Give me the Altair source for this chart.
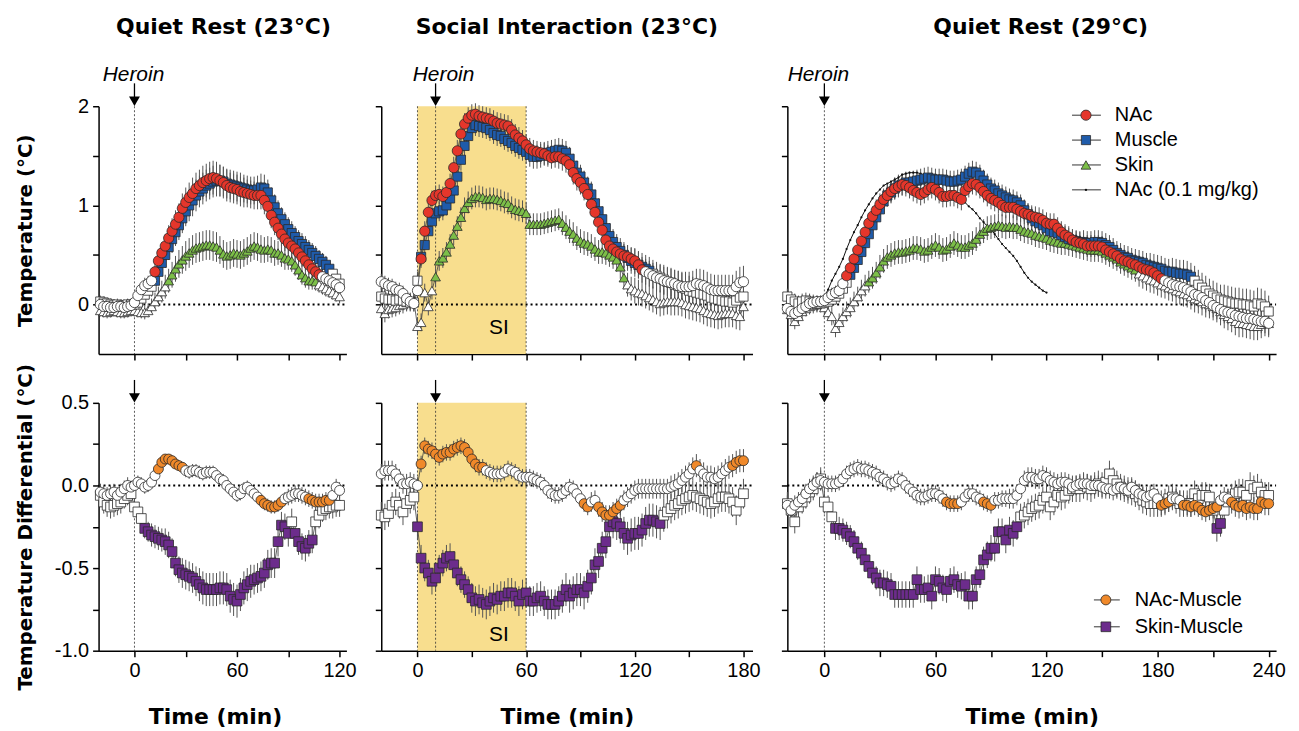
import altair as alt
import pandas as pd

# ---------------- sampling ----------------
STEP = 2            # minutes between samples
P1_START = -20      # Quiet Rest 23 C : -20 .. 120
P2_START = -20      # Social Interaction : -20 .. 180
P3_START = -20      # Quiet Rest 29 C : -20 .. 240
NAC01_START = 0

HEROIN_P1, HEROIN_P2, HEROIN_P3 = 0, 10, 0
SI_START, SI_END, SI_LABEL_T = 0, 60, 45

# ---------------- Panel 1 (Quiet Rest 23 C) ----------------
NAC_P1 = [0.00,-0.02,-0.02,-0.03,-0.03,-0.02,-0.02,-0.03,-0.02,-0.01,
          0.02,0.09,0.15,0.19,0.21,0.24,0.33,0.44,0.52,0.59,
          0.67,0.74,0.81,0.88,0.97,1.03,1.08,1.12,1.17,1.20,
          1.23,1.25,1.27,1.28,1.27,1.25,1.23,1.20,1.18,1.17,
          1.16,1.14,1.13,1.12,1.11,1.10,1.10,1.10,1.05,0.99,
          0.90,0.83,0.77,0.71,0.66,0.62,0.59,0.56,0.52,0.48,
          0.44,0.40,0.36,0.33,0.30,0.28,0.26,0.24,0.22,0.20,
          0.17]
MUS_P1 = [0.03,0.02,0.01,0.00,-0.01,0.00,-0.01,-0.01,0.00,0.00,
          0.00,0.02,0.06,0.10,0.14,0.18,0.24,0.33,0.42,0.50,
          0.58,0.66,0.73,0.80,0.87,0.94,1.00,1.05,1.10,1.14,
          1.17,1.20,1.22,1.24,1.25,1.25,1.24,1.22,1.21,1.20,
          1.19,1.18,1.17,1.16,1.15,1.15,1.16,1.18,1.17,1.13,
          1.05,0.98,0.92,0.86,0.81,0.76,0.72,0.68,0.64,0.61,
          0.58,0.55,0.52,0.49,0.46,0.43,0.40,0.36,0.31,0.26,
          0.21]
SKN_P1 = [-0.06,-0.07,-0.08,-0.07,-0.06,-0.07,-0.08,-0.08,-0.07,-0.06,
          -0.06,-0.07,-0.08,-0.08,-0.06,-0.02,0.03,0.08,0.13,0.18,
          0.24,0.30,0.36,0.41,0.45,0.49,0.52,0.55,0.57,0.58,
          0.59,0.60,0.60,0.59,0.58,0.55,0.51,0.49,0.50,0.52,
          0.51,0.50,0.52,0.54,0.57,0.59,0.58,0.56,0.55,0.56,
          0.55,0.52,0.52,0.50,0.47,0.46,0.44,0.40,0.35,0.30,
          0.27,0.24,0.24,0.23,0.20,0.18,0.16,0.14,0.12,0.10,
          0.08]
NMD_P1 = [-0.04,-0.05,-0.06,-0.05,-0.04,-0.06,-0.04,-0.02,0.00,-0.01,
          0.00,0.02,0.01,-0.01,0.00,0.02,0.06,0.10,0.14,0.16,
          0.16,0.15,0.13,0.12,0.11,0.09,0.08,0.09,0.09,0.08,
          0.07,0.08,0.08,0.08,0.06,0.04,0.03,0.00,-0.02,-0.04,
          -0.06,-0.05,-0.02,-0.01,-0.03,-0.05,-0.07,-0.09,-0.11,-0.12,
          -0.13,-0.13,-0.12,-0.10,-0.08,-0.07,-0.06,-0.05,-0.05,-0.06,
          -0.07,-0.08,-0.09,-0.10,-0.10,-0.10,-0.09,-0.09,-0.06,-0.01,
          -0.03]
SMD_P1 = [-0.06,-0.10,-0.12,-0.13,-0.12,-0.11,-0.10,-0.08,-0.06,-0.05,
          -0.13,-0.16,-0.20,-0.26,-0.28,-0.30,-0.31,-0.32,-0.33,-0.34,
          -0.36,-0.40,-0.47,-0.51,-0.53,-0.54,-0.55,-0.56,-0.58,-0.60,
          -0.62,-0.63,-0.63,-0.63,-0.63,-0.62,-0.62,-0.63,-0.67,-0.69,
          -0.70,-0.66,-0.62,-0.60,-0.58,-0.57,-0.56,-0.55,-0.53,-0.48,
          -0.47,-0.47,-0.34,-0.24,-0.25,-0.29,-0.22,-0.29,-0.34,-0.37,
          -0.38,-0.35,-0.33,-0.22,-0.18,-0.15,-0.14,-0.13,-0.13,-0.12,
          -0.12]
# SEM (hundredths of a degree)
NAC_P1_E = [5,5,5,5,5,5,5,5,5,5, 5,6,7,8,8,9,9,10,11,12, 13,13,14,14,15,15,15,16,16,16,
            17,17,17,17,17,16,16,16,15,15, 15,15,15,14,14,14,14,14,14,13,
            13,13,12,12,12,11,11,11,11,10, 10,10,9,9,9,8,8,8,7,7, 7]
MUS_P1_E = [6,6,6,6,6,6,6,6,6,6, 6,6,7,8,9,10,10,11,12,13, 13,14,14,15,15,15,16,16,16,16,
            16,16,16,16,16,16,15,15,15,15, 15,15,14,14,14,14,14,14,14,13,
            13,13,13,12,12,12,12,11,11,11, 11,10,10,10,9,9,9,8,8,8, 8]
SKN_P1_E = [6,6,6,6,6,6,6,6,6,6, 6,6,6,7,7,8,9,10,11,12, 12,13,13,14,14,15,15,15,15,15,
            15,15,15,15,15,14,14,14,14,14, 14,14,14,14,14,14,14,14,13,13,
            13,13,12,12,12,11,11,11,10,10, 10,9,9,9,8,8,8,7,7,7, 7]
NMD_P1_E = [5,5,5,5,5,5,5,5,5,4, 4,4,4,4,4,4,4,4,3,3, 3,3,3,3,3,4,4,4,4,4,
            4,4,4,4,4,4,4,4,4,4, 4,4,4,4,4,4,4,4,4,4,
            4,4,4,4,4,5,5,5,5,5, 5,5,5,5,5,5,5,5,5,5, 5]
SMD_P1_E = [7,7,7,7,7,7,7,6,6,6, 6,6,6,6,6,7,7,7,7,8, 8,8,8,8,9,9,9,9,9,10,
            10,10,10,10,10,10,10,10,10,10, 10,10,10,10,10,9,9,9,9,9,
            9,9,9,8,8,8,8,8,8,8, 8,8,8,8,8,7,7,7,7,7, 7]
NAC_P1_SIG = [(12, 108)]
MUS_P1_SIG = [(12, 114)]
SKN_P1_SIG = [(20, 106)]
NMD_P1_SIG = [(14, 28), (74, 86), (102, 114)]
SMD_P1_SIG = [(6, 90), (94, 104)]

# ---------------- Panel 2 (Social Interaction 23 C) ----------------
NAC_P2 = [0.23,0.21,0.19,0.18,0.15,0.14,0.11,0.06,0.03,0.01,
          0.14,0.46,0.74,0.93,1.05,1.10,1.11,1.09,1.13,1.22,
          1.38,1.55,1.72,1.82,1.88,1.91,1.92,1.90,1.89,1.88,
          1.87,1.85,1.83,1.82,1.81,1.80,1.76,1.71,1.68,1.65,
          1.61,1.57,1.55,1.54,1.53,1.52,1.50,1.48,1.49,1.49,
          1.47,1.45,1.41,1.33,1.27,1.23,1.17,1.11,1.01,0.93,
          0.83,0.75,0.65,0.59,0.56,0.53,0.51,0.49,0.48,0.46,
          0.44,0.40,0.35,0.33,0.31,0.29,0.27,0.26,0.24,0.23,
          0.22,0.21,0.19,0.18,0.18,0.18,0.19,0.21,0.20,0.19,
          0.17,0.15,0.14,0.14,0.14,0.14,0.14,0.14,0.18,0.22,
          0.23]
MUS_P2 = [0.08,0.06,0.05,0.05,0.04,0.05,0.04,0.03,0.02,0.02,
          0.24,0.48,0.60,0.74,0.84,0.92,0.94,0.95,1.00,1.07,
          1.15,1.29,1.46,1.60,1.70,1.78,1.81,1.80,1.79,1.78,
          1.76,1.73,1.71,1.70,1.67,1.65,1.63,1.60,1.58,1.56,
          1.54,1.51,1.49,1.49,1.50,1.52,1.53,1.54,1.55,1.56,
          1.55,1.53,1.47,1.40,1.33,1.29,1.23,1.17,1.11,1.02,
          0.94,0.86,0.77,0.69,0.63,0.58,0.54,0.50,0.47,0.44,
          0.42,0.40,0.38,0.36,0.34,0.31,0.29,0.27,0.25,0.23,
          0.22,0.20,0.19,0.17,0.16,0.14,0.13,0.12,0.11,0.10,
          0.09,0.07,0.06,0.05,0.04,0.03,0.03,0.02,0.04,0.07,
          0.08]
SKN_P2 = [-0.04,-0.09,-0.05,-0.04,-0.03,-0.01,0.00,0.02,0.03,0.04,
          -0.22,-0.18,0.12,-0.02,0.14,0.28,0.44,0.47,0.53,0.61,
          0.70,0.79,0.88,0.97,1.03,1.07,1.09,1.09,1.08,1.06,
          1.07,1.07,1.06,1.05,1.03,1.02,0.98,0.96,0.95,0.94,
          0.92,0.81,0.81,0.81,0.81,0.82,0.83,0.84,0.85,0.86,
          0.82,0.78,0.74,0.71,0.67,0.64,0.62,0.61,0.59,0.56,
          0.53,0.53,0.52,0.50,0.48,0.45,0.38,0.27,0.20,0.16,
          0.14,0.12,0.11,0.09,0.07,0.05,0.03,0.01,0.02,0.03,
          0.03,0.03,0.03,0.02,0.00,-0.01,-0.02,-0.03,-0.04,-0.06,
          -0.08,-0.09,-0.10,-0.11,-0.10,-0.09,-0.09,-0.09,-0.11,-0.12,
          -0.02]
NMD_P2 = [0.07,0.09,0.09,0.09,0.07,0.04,0.01,0.01,0.02,0.01,
          0.00,0.13,0.24,0.22,0.21,0.19,0.17,0.19,0.20,0.20,
          0.22,0.23,0.24,0.23,0.20,0.16,0.13,0.11,0.11,0.09,
          0.08,0.07,0.07,0.07,0.08,0.10,0.09,0.08,0.06,0.05,
          0.05,0.05,0.04,0.03,0.02,0.00,-0.03,-0.05,-0.06,-0.06,
          -0.05,-0.03,-0.01,-0.02,-0.05,-0.08,-0.11,-0.13,-0.10,-0.09,
          -0.13,-0.16,-0.18,-0.18,-0.16,-0.14,-0.12,-0.09,-0.07,-0.05,
          -0.03,-0.02,-0.02,-0.02,-0.02,-0.02,-0.02,-0.02,-0.02,-0.02,
          -0.01,0.00,0.01,0.03,0.05,0.07,0.10,0.12,0.09,0.07,
          0.05,0.05,0.04,0.05,0.07,0.09,0.11,0.12,0.14,0.15,
          0.15]
SMD_P2 = [-0.18,-0.19,-0.17,-0.12,-0.10,-0.12,-0.16,-0.11,-0.09,-0.07,
          -0.25,-0.44,-0.50,-0.53,-0.58,-0.56,-0.50,-0.47,-0.44,-0.43,
          -0.48,-0.53,-0.57,-0.60,-0.63,-0.68,-0.70,-0.69,-0.71,-0.72,
          -0.70,-0.68,-0.69,-0.67,-0.67,-0.65,-0.65,-0.67,-0.70,-0.66,
          -0.65,-0.70,-0.70,-0.68,-0.67,-0.70,-0.72,-0.72,-0.72,-0.70,
          -0.67,-0.63,-0.67,-0.65,-0.63,-0.63,-0.65,-0.61,-0.56,-0.48,
          -0.46,-0.38,-0.34,-0.25,-0.22,-0.23,-0.25,-0.29,-0.32,-0.30,
          -0.29,-0.29,-0.27,-0.23,-0.21,-0.21,-0.22,-0.23,-0.18,-0.16,
          -0.14,-0.12,-0.11,-0.09,-0.08,-0.07,-0.06,-0.07,-0.08,-0.09,
          -0.10,-0.11,-0.10,-0.08,-0.07,-0.07,-0.08,-0.10,-0.15,-0.10,
          -0.05]
NAC_P2_E = [8,8,8,8,8,8,8,8,8,8, 8,9,10,10,10,10,10,10,10,10, 11,11,11,11,11,11,11,11,11,11,
            11,11,11,11,11,11,11,11,11,11, 11,11,11,11,11,11,11,11,11,12,
            12,12,12,12,12,12,12,12,12,12, 12,12,12,12,12,12,12,12,12,12,
            13,13,13,13,13,13,14,14,14,14, 14,14,15,15,15,15,15,15,16,16,
            16,16,16,16,16,16,16,16,16,16, 16]
MUS_P2_E = [9,9,9,9,9,9,9,9,9,9, 9,9,10,10,10,10,10,10,10,10, 10,10,11,11,11,11,11,11,11,11,
            11,11,11,11,11,11,11,11,11,11, 12,12,12,12,12,12,12,12,12,12,
            12,12,12,12,12,12,12,12,13,13, 13,13,13,13,13,13,13,13,13,13,
            14,14,14,14,14,14,14,14,15,15, 15,15,15,15,15,15,15,15,15,15,
            15,15,15,15,15,15,15,15,15,15, 15]
SKN_P2_E = [9,9,9,9,9,9,9,9,9,9, 9,9,9,9,9,10,10,10,10,10, 10,10,10,11,11,11,11,11,11,11,
            11,11,11,11,11,11,11,11,11,11, 11,11,11,11,11,11,11,11,11,11,
            12,12,12,12,12,12,12,12,12,12, 12,12,12,12,12,12,12,12,12,12,
            13,13,13,13,13,13,13,13,13,13, 14,14,14,14,14,14,14,14,14,14,
            14,14,14,14,14,14,14,14,14,14, 14]
NMD_P2_E = [6,6,6,6,6,6,6,6,6,6, 5,5,5,5,5,5,5,5,5,5, 5,5,5,5,5,5,5,5,5,5,
            5,5,5,5,5,5,5,5,5,5, 5,5,5,5,5,5,5,5,5,5,
            5,5,5,5,5,5,5,5,6,6, 6,6,6,6,6,6,6,6,6,6,
            6,6,6,6,6,6,6,6,6,6, 7,7,7,7,7,7,7,7,7,7,
            7,7,7,7,7,7,7,7,7,7, 7]
SMD_P2_E = [8,8,8,8,8,8,8,8,8,8, 8,8,8,8,8,8,8,8,8,8, 8,8,8,8,8,9,9,9,9,9,
            9,9,9,9,9,9,9,9,9,9, 9,9,9,9,9,9,9,9,9,9,
            10,10,10,10,10,10,10,10,10,10, 10,10,10,10,10,10,10,10,10,10,
            10,10,10,10,10,10,10,10,10,10, 9,9,9,9,9,9,9,9,9,9,
            9,9,9,9,9,9,9,9,9,9, 9]
NAC_P2_SIG = [(2, 124)]
MUS_P2_SIG = [(2, 128)]
SKN_P2_SIG = [(10, 114)]
NMD_P2_SIG = [(2, 36), (92, 94), (100, 112), (154, 154), (174, 180)]
SMD_P2_SIG = [(0, 134)]

# ---------------- Panel 3 (Quiet Rest 29 C) ----------------
NAC_P3 = [-0.04,-0.07,-0.09,-0.07,-0.04,-0.02,0.01,0.02,0.03,0.03,
          0.04,0.07,0.10,0.12,0.14,0.21,0.29,0.37,0.46,0.55,
          0.64,0.73,0.82,0.89,0.95,1.01,1.06,1.10,1.14,1.17,
          1.19,1.21,1.20,1.18,1.15,1.13,1.11,1.13,1.16,1.18,
          1.16,1.13,1.09,1.09,1.10,1.10,1.08,1.06,1.15,1.19,
          1.22,1.21,1.18,1.14,1.10,1.07,1.05,1.03,1.00,0.98,
          0.98,0.98,0.96,0.94,0.92,0.91,0.89,0.88,0.87,0.85,
          0.82,0.81,0.81,0.77,0.73,0.70,0.68,0.65,0.63,0.62,
          0.61,0.59,0.59,0.59,0.59,0.58,0.55,0.53,0.51,0.49,
          0.46,0.44,0.43,0.41,0.40,0.38,0.36,0.35,0.34,0.32,
          0.29,0.26,0.24,0.22,0.20,0.19,0.18,0.17,0.15,0.13,
          0.10,0.09,0.07,0.04,0.02,-0.01,-0.03,-0.05,-0.07,-0.08,
          -0.09,-0.11,-0.12,-0.13,-0.14,-0.14,-0.15,-0.16,-0.17,-0.17,
          -0.19]
MUS_P3 = [0.08,0.05,0.03,0.01,0.03,0.04,0.03,0.02,0.01,0.01,
          0.02,0.03,0.05,0.08,0.11,0.16,0.22,0.30,0.37,0.45,
          0.53,0.62,0.71,0.80,0.88,0.96,1.04,1.10,1.13,1.17,
          1.20,1.21,1.23,1.23,1.24,1.25,1.26,1.27,1.28,1.27,
          1.26,1.26,1.26,1.25,1.24,1.24,1.25,1.26,1.29,1.32,
          1.34,1.33,1.30,1.25,1.21,1.17,1.15,1.12,1.10,1.08,
          1.06,1.05,1.03,1.00,0.95,0.91,0.87,0.84,0.82,0.80,
          0.77,0.74,0.73,0.72,0.70,0.68,0.66,0.65,0.64,0.63,
          0.63,0.62,0.62,0.63,0.63,0.62,0.60,0.58,0.55,0.52,
          0.50,0.48,0.47,0.45,0.44,0.43,0.42,0.40,0.39,0.38,
          0.37,0.36,0.34,0.33,0.33,0.32,0.31,0.31,0.30,0.28,
          0.24,0.20,0.17,0.14,0.11,0.09,0.07,0.05,0.04,0.03,
          0.02,0.01,0.01,0.00,0.00,-0.01,-0.02,0.01,0.00,-0.02,
          -0.07]
SKN_P3 = [-0.05,-0.10,-0.17,-0.12,-0.07,-0.04,-0.02,-0.01,0.00,0.00,
          -0.03,-0.08,-0.12,-0.24,-0.18,-0.12,-0.07,-0.03,0.03,0.08,
          0.14,0.19,0.23,0.27,0.32,0.38,0.44,0.48,0.50,0.52,
          0.53,0.53,0.54,0.55,0.57,0.57,0.56,0.54,0.55,0.58,
          0.60,0.58,0.55,0.56,0.59,0.62,0.60,0.58,0.58,0.60,
          0.62,0.66,0.71,0.74,0.77,0.78,0.79,0.80,0.79,0.78,
          0.79,0.78,0.78,0.76,0.74,0.73,0.72,0.70,0.69,0.68,
          0.67,0.65,0.64,0.63,0.62,0.62,0.61,0.60,0.59,0.58,
          0.57,0.56,0.55,0.55,0.55,0.54,0.52,0.50,0.48,0.46,
          0.43,0.41,0.39,0.37,0.35,0.31,0.29,0.27,0.25,0.24,
          0.22,0.20,0.19,0.17,0.16,0.14,0.13,0.11,0.10,0.08,
          0.06,0.05,0.03,0.01,0.00,-0.02,-0.04,-0.07,-0.10,-0.12,
          -0.14,-0.17,-0.19,-0.19,-0.20,-0.21,-0.22,-0.22,-0.20,-0.18,
          -0.19]
NMD_P3 = [-0.12,-0.15,-0.12,-0.10,-0.08,-0.05,-0.02,0.00,0.02,0.03,
          0.02,0.01,0.01,0.01,0.02,0.04,0.07,0.09,0.10,0.11,
          0.10,0.10,0.09,0.08,0.07,0.05,0.04,0.02,0.01,0.02,
          0.04,0.03,0.00,-0.02,-0.04,-0.06,-0.07,-0.07,-0.06,-0.05,
          -0.05,-0.06,-0.08,-0.10,-0.11,-0.11,-0.11,-0.10,-0.07,-0.05,
          -0.05,-0.07,-0.08,-0.10,-0.11,-0.12,-0.09,-0.09,-0.08,-0.08,
          -0.08,-0.08,-0.06,-0.02,0.03,0.05,0.05,0.04,0.04,0.06,
          0.05,0.03,0.02,0.01,0.02,0.02,0.01,-0.01,0.00,0.01,
          0.01,0.01,0.00,0.00,0.00,-0.01,-0.02,-0.02,-0.03,-0.02,
          -0.01,-0.02,-0.03,-0.01,-0.03,-0.05,-0.06,-0.07,-0.06,-0.05,
          -0.08,-0.12,-0.11,-0.10,-0.08,-0.08,-0.09,-0.12,-0.12,-0.13,
          -0.12,-0.13,-0.15,-0.16,-0.15,-0.14,-0.13,-0.09,-0.07,-0.08,
          -0.10,-0.12,-0.13,-0.12,-0.14,-0.13,-0.14,-0.14,-0.10,-0.11,
          -0.11]
SMD_P3 = [-0.11,-0.15,-0.22,-0.13,-0.10,-0.07,-0.04,-0.02,0.01,0.04,
          -0.10,-0.13,-0.19,-0.26,-0.26,-0.27,-0.29,-0.31,-0.34,-0.38,
          -0.41,-0.45,-0.49,-0.53,-0.56,-0.59,-0.59,-0.60,-0.61,-0.66,
          -0.66,-0.66,-0.66,-0.66,-0.66,-0.57,-0.63,-0.63,-0.62,-0.67,
          -0.57,-0.58,-0.62,-0.63,-0.58,-0.57,-0.60,-0.61,-0.60,-0.67,
          -0.67,-0.57,-0.54,-0.45,-0.42,-0.38,-0.38,-0.28,-0.28,-0.33,
          -0.27,-0.29,-0.25,-0.19,-0.18,-0.16,-0.14,-0.13,-0.12,-0.09,
          -0.07,-0.13,-0.10,-0.06,-0.07,-0.06,-0.03,-0.02,-0.02,-0.02,
          0.00,-0.01,-0.02,0.00,0.01,0.00,0.02,0.07,0.03,0.01,
          -0.01,-0.02,-0.03,-0.04,-0.05,-0.07,-0.09,-0.10,-0.11,-0.11,
          -0.11,-0.11,-0.10,-0.08,-0.07,-0.09,-0.11,-0.11,-0.11,-0.11,
          -0.05,-0.08,-0.06,-0.06,-0.07,-0.15,-0.26,-0.23,-0.15,-0.10,
          -0.07,-0.05,-0.04,-0.04,-0.06,0.00,-0.02,-0.01,-0.04,-0.06,
          -0.06]
NAC01_P3 = [0.08,0.15,0.24,0.31,0.38,0.46,0.56,0.65,0.73,0.80,
            0.88,0.95,1.01,1.07,1.12,1.16,1.20,1.22,1.24,1.26,
            1.28,1.31,1.32,1.33,1.33,1.33,1.32,1.30,1.26,1.22,
            1.18,1.15,1.13,1.11,1.10,1.08,1.07,1.05,1.03,0.99,
            0.96,0.92,0.87,0.83,0.79,0.76,0.71,0.66,0.61,0.57,
            0.53,0.49,0.44,0.38,0.32,0.27,0.23,0.20,0.17,0.14,
            0.12]
NAC_P3_E = [6,6,6,6,6,6,6,6,6,6, 6,6,7,7,8,8,9,9,9,10, 10,10,10,10,11,11,11,11,11,11,
            11,11,11,11,11,11,11,11,11,11, 11,11,11,11,11,11,11,11,11,11,
            11,11,11,11,11,11,11,11,11,11, 11,11,11,11,11,11,11,11,11,11,
            11,11,11,11,11,11,11,11,11,11, 11,11,11,11,11,11,11,11,11,11,
            11,11,11,11,11,11,11,11,12,12, 12,12,12,12,12,12,12,12,12,12,
            12,12,12,12,12,12,12,12,12,12, 12,12,12,12,12,12,12,12,12,12, 12]
MUS_P3_E = [8,8,8,8,8,8,8,8,8,8, 8,8,8,8,9,9,9,10,10,10, 10,10,11,11,11,11,11,11,11,11,
            11,11,11,11,11,11,11,11,11,11, 11,11,11,11,11,11,11,11,11,11,
            11,11,11,11,11,11,11,11,11,11, 11,11,11,11,11,11,11,11,11,11,
            11,11,11,11,11,11,11,11,11,11, 12,12,12,12,12,12,12,12,12,12,
            12,12,12,12,12,12,12,12,13,13, 13,13,13,13,14,14,14,14,14,14,
            15,15,15,15,15,15,15,15,16,16, 16,16,16,16,16,16,16,16,16,16, 16]
SKN_P3_E = [8,8,8,8,8,8,8,8,8,8, 8,8,9,9,9,9,10,10,10,10, 11,11,11,11,11,12,12,12,12,12,
            12,12,12,12,12,12,12,12,12,12, 12,12,12,12,12,12,12,12,12,12,
            12,12,12,12,12,12,12,12,12,12, 12,12,12,12,12,12,12,12,12,12,
            12,12,12,12,12,12,12,12,12,12, 12,12,12,12,12,12,12,12,12,12,
            12,12,12,12,12,13,13,13,13,13, 13,13,13,13,13,13,13,13,13,13,
            14,14,14,14,14,14,14,14,14,14, 14,14,14,14,14,14,14,14,14,14, 14]
NMD_P3_E = [6,6,6,6,6,6,6,6,6,6, 5,5,5,5,5,5,5,5,5,5, 5,5,5,5,5,5,5,5,5,5,
            5,5,5,5,5,5,5,5,5,5, 5,5,5,5,5,5,5,5,5,5,
            5,5,5,5,5,5,5,5,5,5, 6,6,6,6,6,6,6,6,6,6,
            6,6,6,6,6,6,6,6,6,6, 6,6,6,6,6,6,6,6,6,6,
            6,6,6,6,6,6,6,6,6,6, 6,6,6,6,6,6,6,6,6,6,
            6,6,6,6,6,6,6,6,6,6, 7,7,7,7,7,7,7,7,7,7, 7]
SMD_P3_E = [7,7,7,7,7,7,7,7,7,7, 7,7,7,7,7,7,7,7,7,7, 7,7,7,7,7,8,8,8,8,8,
            8,8,8,8,8,8,8,8,8,8, 8,8,8,8,8,8,8,8,8,8,
            8,8,8,8,8,8,8,8,8,8, 8,8,8,8,8,8,8,8,8,8,
            8,8,8,8,8,8,8,8,8,8, 8,8,8,8,8,8,8,8,8,8,
            8,8,8,8,8,8,8,8,8,8, 8,8,8,8,8,8,8,8,8,8,
            8,8,8,8,8,8,8,8,8,8, 8,8,8,8,8,8,8,8,8,8, 8]
NAC_P3_SIG = [(12, 182)]
MUS_P3_SIG = [(14, 198)]
SKN_P3_SIG = [(24, 168)]
NMD_P3_SIG = [(66, 72), (86, 90), (182, 186), (194, 212), (220, 240)]
SMD_P3_SIG = [(6, 104), (212, 214)]

# ---------------- styling ----------------
RED, BLUE, GREEN = "#E5362B", "#1F5BAA", "#7CBF48"
ORANGE, PURPLE = "#F0892A", "#6C2C8C"
SI_FILL = "#F8DE8E"
OUTLINE = "#2a2a2a"
ERRC = "#555555"
FONT = "Liberation Sans"
BOLD = "DejaVu Sans"

H = 249
W1, W2, W3 = 249, 373, 491
TOP_DOM, BOT_DOM = [-0.5, 2], [-1.0, 0.5]


def make_df(start, vals, errs, sig):
    if errs is not None and len(errs) != len(vals):
        raise ValueError("length mismatch %d %d" % (len(vals), len(errs)))
    rows = []
    for i, v in enumerate(vals):
        t = start + STEP * i
        e = (errs[i] / 100.0) if errs is not None else 0.0
        s = any(a <= t <= b for a, b in sig)
        rows.append({"t": t, "v": v, "lo": v - e, "hi": v + e, "sig": s})
    return pd.DataFrame(rows)


def panel(series, xdom, ydom, w, xticks, yticks, ylabels, xlabels, ytitle,
          xtitle_x, heroin_t, heroin_text, heroin_dx, si=False, extra=None,
          legend=None, title=None, title_dx=0):
    lab_x = "datum.value % 60 == 0 ? datum.label : ''"
    if ydom == TOP_DOM:
        lab_y = "datum.value % 1 == 0 ? format(datum.value, 'd') : ''"
    else:
        lab_y = "(datum.value * 4) % 2 == 0 ? replace(format(datum.value, '.1f'), '\u2212', '-') : ''"
    if xlabels:
        xax = alt.Axis(values=xticks, labelExpr=lab_x, title="Time (min)",
                       titleX=xtitle_x, titleY=66, titleBaseline="middle",
                       titleFontSize=22)
    else:
        xax = alt.Axis(values=xticks, labels=False, title=None)
    if ylabels:
        yax = alt.Axis(values=yticks, labelExpr=lab_y, title=ytitle,
                       titleX=-73, titleY=H / 2, titleBaseline="middle",
                       titleFontSize=20, titleAngle=270)
    else:
        yax = alt.Axis(values=yticks, labels=False, title=None)
    xs = alt.Scale(domain=xdom, nice=False, zero=False)
    ys = alt.Scale(domain=ydom, nice=False, zero=False)
    X = alt.X("t:Q", scale=xs, axis=xax)
    Y = alt.Y("v:Q", scale=ys, axis=yax)

    layers = []
    if si:
        si_df = pd.DataFrame({"t": [SI_START], "t2": [SI_END]})
        layers.append(alt.Chart(si_df).mark_rect(color=SI_FILL).encode(
            x=X, x2="t2:Q", y=alt.value(0), y2=alt.value(H)))
    vlines = [heroin_t] + ([SI_START, SI_END] if si else [])
    layers.append(alt.Chart(pd.DataFrame({"t": vlines})).mark_rule(
        color="#333333", strokeWidth=0.8, strokeDash=[2, 2]).encode(
        x=X, y=alt.value(0), y2=alt.value(H)))
    layers.append(alt.Chart(pd.DataFrame({"v": [0]})).mark_rule(
        color="black", strokeWidth=2, strokeDash=[2, 3]).encode(
        y=Y, x=alt.value(0), x2=alt.value(w)))
    # error bars
    for (df, shape, color, size) in series:
        layers.append(alt.Chart(df).mark_rule(color=ERRC, strokeWidth=1).encode(
            x=X, y=alt.Y("lo:Q", scale=ys, axis=yax), y2="hi:Q"))
    if extra is not None:
        layers.append(alt.Chart(extra).mark_line(color="#111111", strokeWidth=1).encode(x=X, y=Y))
        layers.append(alt.Chart(extra).mark_point(filled=True, color="#111111", size=5,
                                                  opacity=1).encode(x=X, y=Y))
    for (df, shape, color, size) in series:
        layers.append(alt.Chart(df).mark_line(color="#3a3a3a", strokeWidth=0.8).encode(x=X, y=Y))
        layers.append(alt.Chart(df).mark_point(
            shape=shape, filled=True, size=size, stroke=OUTLINE, strokeWidth=0.8,
            opacity=1).encode(
            x=X, y=Y,
            fill=alt.condition("datum.sig", alt.value(color), alt.value("white"))))
    # heroin arrow
    hdf = pd.DataFrame({"t": [heroin_t]})
    layers.append(alt.Chart(hdf).mark_rule(color="black", strokeWidth=1.3).encode(
        x=X, y=alt.value(-23), y2=alt.value(-8)))
    layers.append(alt.Chart(hdf).mark_point(shape="triangle-down", filled=True, color="black",
                                            size=120, opacity=1).encode(x=X, y=alt.value(-5)))
    if heroin_text:
        layers.append(alt.Chart(hdf).mark_text(text="Heroin", font=FONT, fontSize=21,
                                               fontStyle="italic", dx=heroin_dx,
                                               baseline="middle", color="black").encode(
            x=X, y=alt.value(-31)))
    if si:
        sdf = pd.DataFrame({"t": [SI_LABEL_T]})
        layers.append(alt.Chart(sdf).mark_text(text="SI", font=FONT, fontSize=21,
                                               baseline="middle", color="black").encode(
            x=X, y=alt.value(223 if ydom == TOP_DOM else 233)))
    if legend is not None:
        (entries, y0, dy, lx1, lx2, mx, tx) = legend
        one = pd.DataFrame({"k": [0]})
        for i, (label, shape, color, size) in enumerate(entries):
            yy = y0 + i * dy
            layers.append(alt.Chart(one).mark_rule(color="#333333", strokeWidth=1).encode(
                x=alt.value(lx1), x2=alt.value(lx2), y=alt.value(yy)))
            if shape == "dot":
                layers.append(alt.Chart(one).mark_point(shape="circle", filled=True, size=6,
                                                        color="#111111", opacity=1).encode(
                    x=alt.value(mx), y=alt.value(yy)))
            else:
                layers.append(alt.Chart(one).mark_point(shape=shape, filled=True, size=size,
                                                        fill=color, stroke=OUTLINE,
                                                        strokeWidth=0.8, opacity=1).encode(
                    x=alt.value(mx), y=alt.value(yy)))
            layers.append(alt.Chart(one).mark_text(text=label, font=FONT, fontSize=20,
                                                   align="left", baseline="middle",
                                                   color="black").encode(
                x=alt.value(tx), y=alt.value(yy)))
    props = dict(width=w, height=H)
    if title:
        props["title"] = alt.TitleParams(text=title, font=BOLD, fontSize=22, fontWeight="bold",
                                         anchor="middle", frame="group", offset=26,
                                         dx=title_dx, color="black")
    return alt.layer(*layers).properties(**props)


def trio(vals, errs, sigs, start, styles):
    return [(make_df(start, v, e, s), sh, c, sz)
            for v, e, s, (sh, c, sz) in zip(vals, errs, sigs, styles)]


TOP_STYLES = [("triangle-up", GREEN, 95), ("square", BLUE, 85), ("circle", RED, 105)]
BOT_STYLES = [("square", PURPLE, 95), ("circle", ORANGE, 100)]

p1t = panel(trio([SKN_P1, MUS_P1, NAC_P1], [SKN_P1_E, MUS_P1_E, NAC_P1_E],
                 [SKN_P1_SIG, MUS_P1_SIG, NAC_P1_SIG], P1_START, TOP_STYLES),
            [-21, 124], TOP_DOM, W1, [0, 30, 60, 90, 120], [0, 0.5, 1, 1.5, 2], True, False,
            "Temperature (\u00b0C)", 0, HEROIN_P1, True, -1,
            title="Quiet Rest (23\u00b0C)", title_dx=1)
p2t = panel(trio([SKN_P2, MUS_P2, NAC_P2], [SKN_P2_E, MUS_P2_E, NAC_P2_E],
                 [SKN_P2_SIG, MUS_P2_SIG, NAC_P2_SIG], P2_START, TOP_STYLES),
            [-20, 185], TOP_DOM, W2, [0, 30, 60, 90, 120, 150, 180], [0, 0.5, 1, 1.5, 2], False,
            False, None, 0, HEROIN_P2, True, 8, si=True,
            title="Social Interaction (23\u00b0C)")
p3t = panel(trio([SKN_P3, MUS_P3, NAC_P3], [SKN_P3_E, MUS_P3_E, NAC_P3_E],
                 [SKN_P3_SIG, MUS_P3_SIG, NAC_P3_SIG], P3_START, TOP_STYLES),
            [-20, 244], TOP_DOM, W3, [0, 30, 60, 90, 120, 150, 180, 210, 240],
            [0, 0.5, 1, 1.5, 2], False, False, None, 0, HEROIN_P3, True, -6,
            extra=make_df(NAC01_START, NAC01_P3, None, []),
            legend=([("NAc", "circle", RED, 105), ("Muscle", "square", BLUE, 85),
                     ("Skin", "triangle-up", GREEN, 95), ("NAc (0.1 mg/kg)", "dot", None, 0)],
                    9, 25, 286, 315, 300, 329),
            title="Quiet Rest (29\u00b0C)", title_dx=9)

p1b = panel(trio([SMD_P1, NMD_P1], [SMD_P1_E, NMD_P1_E], [SMD_P1_SIG, NMD_P1_SIG],
                 P1_START, BOT_STYLES),
            [-21, 124], BOT_DOM, W1, [0, 30, 60, 90, 120],
            [-1.0, -0.75, -0.5, -0.25, 0, 0.25, 0.5], True, True,
            "Temperature Differential (\u00b0C)", 117, HEROIN_P1, False, 0)
p2b = panel(trio([SMD_P2, NMD_P2], [SMD_P2_E, NMD_P2_E], [SMD_P2_SIG, NMD_P2_SIG],
                 P2_START, BOT_STYLES),
            [-20, 185], BOT_DOM, W2, [0, 30, 60, 90, 120, 150, 180],
            [-1.0, -0.75, -0.5, -0.25, 0, 0.25, 0.5], False, True, None, W2 / 2,
            HEROIN_P2, False, 0, si=True)
p3b = panel(trio([SMD_P3, NMD_P3], [SMD_P3_E, NMD_P3_E], [SMD_P3_SIG, NMD_P3_SIG],
                 P3_START, BOT_STYLES),
            [-20, 244], BOT_DOM, W3, [0, 30, 60, 90, 120, 150, 180, 210, 240],
            [-1.0, -0.75, -0.5, -0.25, 0, 0.25, 0.5], False, True, None, W3 / 2,
            HEROIN_P3, False, 0,
            legend=([("NAc-Muscle", "circle", ORANGE, 100), ("Skin-Muscle", "square", PURPLE, 95)],
                    198, 27, 308, 334, 320, 349))

chart = alt.concat(p1t, p2t, p3t, p1b, p2b, p3b, columns=3,
                   spacing={"row": 49, "column": 35}, bounds="flush").properties(
    padding={"left": 7, "top": 6, "right": 5, "bottom": 5}
).resolve_scale(x="independent", y="independent").configure_view(stroke=None).configure_axis(
    grid=False, domainColor="black", domainWidth=1.5, tickColor="black", tickWidth=1.5,
    tickSize=6, labelFont=FONT, labelFontSize=20, labelColor="black", labelPadding=4,
    titleFont=BOLD, titleFontWeight="bold", titleColor="black"
)

chart.save("out.html", embed_options={"renderer": "svg", "actions": False})
